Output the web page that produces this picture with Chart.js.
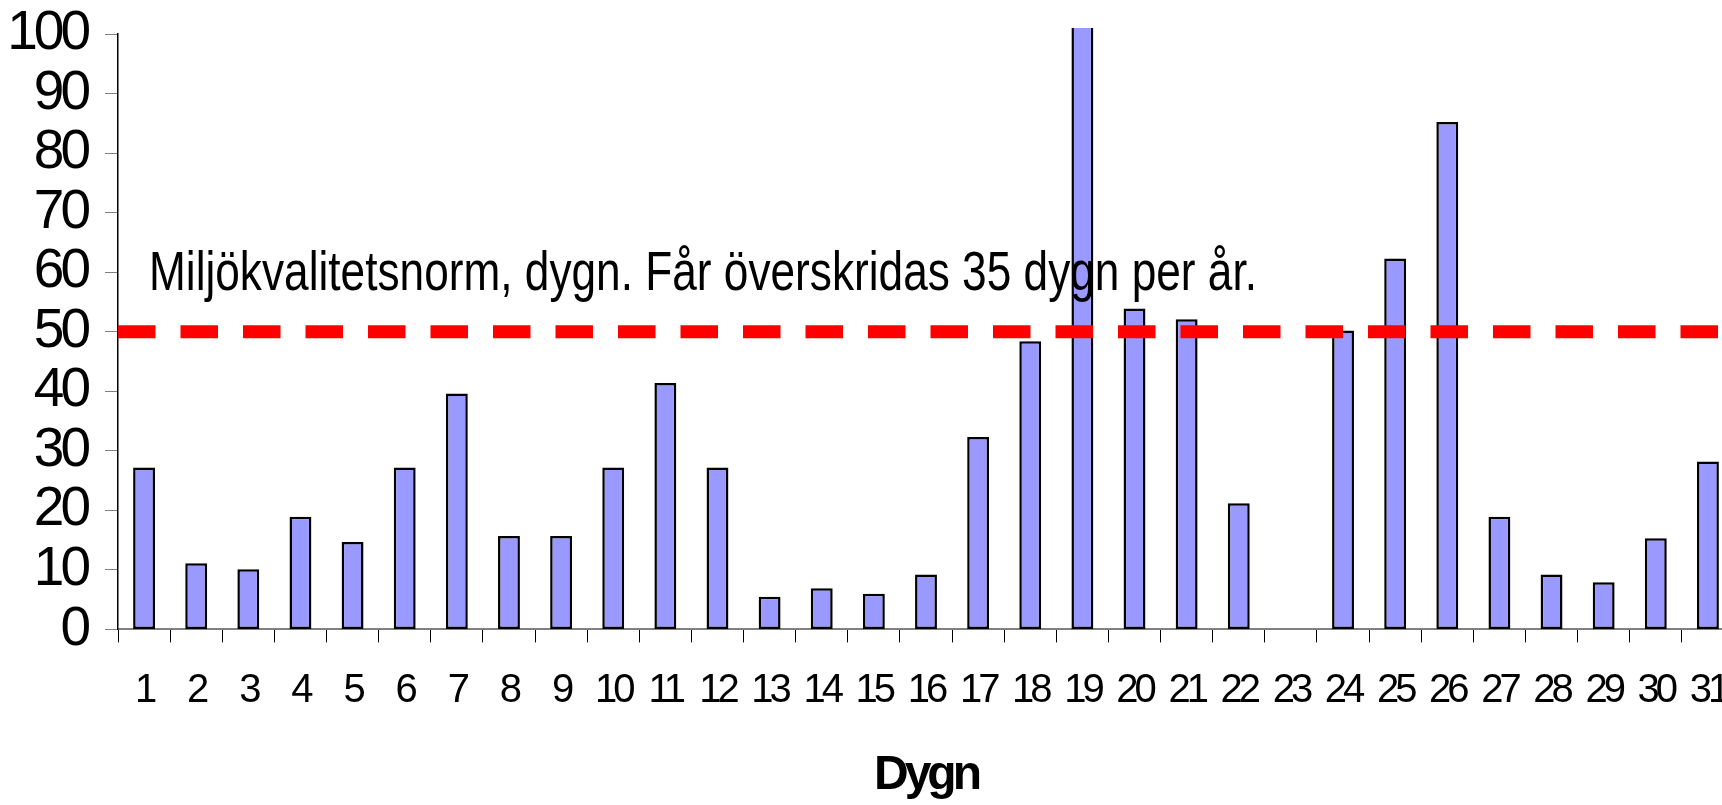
<!DOCTYPE html>
<html>
<head>
<meta charset="utf-8">
<script src="https://cdn.jsdelivr.net/npm/chart.js"></script>
<style>
  html, body { margin: 0; padding: 0; background: #fff; overflow: hidden; }
</style>
</head>
<body>
<canvas id="dygnChart" width="1734" height="805"></canvas>
<script>
const DAYS = ['1','2','3','4','5','6','7','8','9','10','11','12','13','14','15','16','17','18','19','20','21','22','23','24','25','26','27','28','29','30','31'];
const VALUES = [27.2, 11.1, 10.1, 18.9, 14.7, 27.2, 39.6, 15.7, 15.7, 27.2, 41.4, 27.2, 5.5, 6.9, 6.0, 9.2, 32.3, 48.4, 105, 53.9, 52.1, 21.2, null, 50.2, 62.3, 85.2, 18.9, 9.2, 7.9, 15.3, 28.2];
const NORM = 50;
const NORM_TEXT = 'Miljökvalitetsnorm, dygn. Får överskridas 35 dygn per år.';
const Y_MIN = 0, Y_MAX = 100, Y_STEP = 10;

const sans = '"Liberation Sans", Arial, sans-serif';

// the old excel picture has very tight letters
const tightText = {
    id: 'tightText',
    beforeUpdate(chart) { chart.ctx.letterSpacing = '-4px'; },
    beforeDraw(chart) { chart.ctx.letterSpacing = '-4px'; }
};

// red dashed norm line + label
const normPlugin = {
    id: 'norm',
    afterDatasetsDraw(chart) {
        const ctx = chart.ctx;
        const area = chart.chartArea;
        const y = chart.scales.y.getPixelForValue(NORM);
        ctx.save();
        ctx.strokeStyle = '#ff0000';
        ctx.lineWidth = 13;
        ctx.setLineDash([37.5, 25]);
        ctx.beginPath();
        ctx.moveTo(area.left, y);
        ctx.lineTo(area.right, y);
        ctx.stroke();
        ctx.setLineDash([]);
        ctx.letterSpacing = '0px';
        ctx.fillStyle = '#000';
        ctx.font = '56px ' + sans;
        ctx.textAlign = 'left';
        ctx.textBaseline = 'alphabetic';
        ctx.fillText(NORM_TEXT, area.left + 31, y - 42, 1108);
        ctx.restore();
    }
};

const ctx = document.getElementById('dygnChart');

new Chart(ctx, {
    type: 'bar',
    data: {
        labels: DAYS,
        datasets: [{
            data: VALUES,
            backgroundColor: '#9999ff',
            borderColor: '#000000',
            borderWidth: 2.5,
            borderSkipped: false,
            categoryPercentage: 1,
            barPercentage: 0.42,
            clip: {left: 0, top: 6, right: 0, bottom: 0}
        }]
    },
    options: {
        responsive: false,
        animation: false,
        layout: { padding: { top: 34, right: 0, bottom: 0, left: 0 } },
        plugins: {
            legend: { display: false },
            tooltip: { enabled: false }
        },
        scales: {
            x: {
                grid: { drawOnChartArea: false, drawTicks: true, tickLength: 13, color: '#000' },
                border: { color: '#808080', width: 2 },
                ticks: { color: '#000', font: { family: sans, size: 40 }, padding: 25, maxRotation: 0, autoSkip: false },
                title: {
                    display: true,
                    text: 'Dygn',
                    color: '#000',
                    font: { family: sans, size: 48, weight: 'bold' },
                    padding: { top: 7, bottom: 0 }
                },
                afterFit: (scale) => { scale.paddingLeft = 0; scale.paddingRight = 0; }
            },
            y: {
                min: Y_MIN,
                max: Y_MAX,
                grid: { drawOnChartArea: false, drawTicks: true, tickLength: 13, color: '#808080' },
                border: { color: '#000', width: 1.5 },
                ticks: { stepSize: Y_STEP, autoSkip: false, color: '#000', font: { family: sans, size: 55 }, padding: 18 },
                afterFit: (scale) => { scale.width = 118; scale.paddingTop = 0; scale.paddingBottom = 0; }
            }
        }
    },
    plugins: [tightText, normPlugin]
});
</script>
</body>
</html>
